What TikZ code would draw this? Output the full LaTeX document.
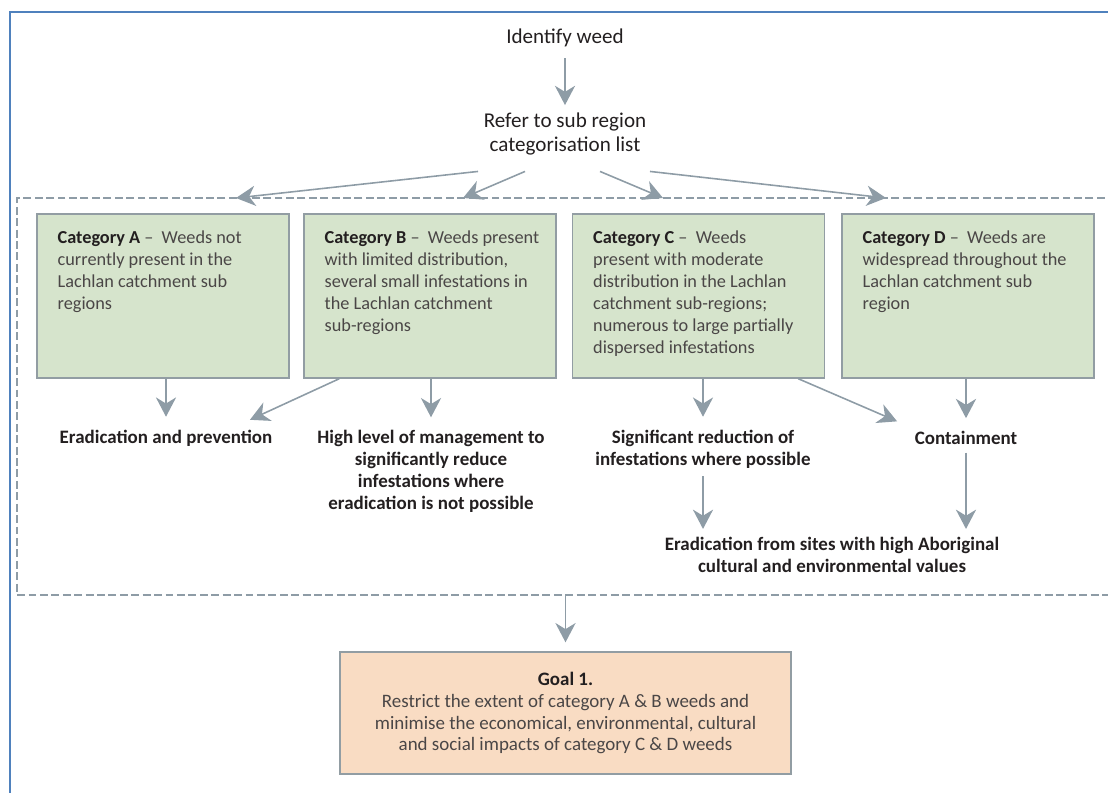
\documentclass[tikz,border=0pt]{standalone}
\usepackage{fontspec}
\setmainfont{Carlito}
\usetikzlibrary{arrows.meta}

\definecolor{framblue}{HTML}{4F81BD}
\definecolor{arrowgray}{HTML}{8E9CA6}
\definecolor{boxline}{HTML}{929DA3}
\definecolor{catfill}{HTML}{D6E4CC}
\definecolor{goalfill}{HTML}{F9DCC3}
\definecolor{labeltext}{HTML}{231F20}
\definecolor{boxtext}{HTML}{4A4646}

\tikzset{
	arr/.style={draw=arrowgray,line width=0.9pt,-{Stealth[length=11pt,width=11.5pt,inset=3.5pt]}},
	toptext/.style={align=center,text=labeltext,inner sep=0.15cm,font=\fontsize{12pt}{13.6pt}\selectfont},
	lbl/.style={align=center,text=labeltext,inner sep=0.15cm,font=\bfseries\fontsize{10.8pt}{12.5pt}\selectfont},
	cattext/.style={anchor=north west,align=left,inner xsep=0.42cm,inner ysep=0.34cm,text=boxtext,font=\fontsize{10.4pt}{12.5pt}\selectfont},
	catbox/.style={draw=boxline,fill=catfill,line width=0.8pt,minimum width=5.04cm,minimum height=3.28cm,label distance=0pt},
	goalbox/.style={draw=boxline,fill=goalfill,line width=0.8pt,minimum width=9.02cm,minimum height=2.44cm,align=center,text=boxtext,font=\fontsize{10.8pt}{12.5pt}\selectfont},
	groupbox/.style={draw=arrowgray,line width=1.2pt,dash pattern=on 4.5pt off 2pt,minimum width=22.1cm,minimum height=7.94cm}
}

\newcommand{\cathead}[1]{\textcolor{labeltext}{\textbf{#1}}}

\begin{document}
\begin{tikzpicture}[x=0.02cm,y=-0.02cm]
	\useasboundingbox (0,0) rectangle (1108,792);
	\clip (0,0) rectangle (1108,792);
	\draw[framblue,line width=1.6pt] (10,12) rectangle (1130,820);

	\node[groupbox] (group) at (569.5,396.5) {};

	\node[toptext] (identify) at (565,38) {Identify weed};
	\node[toptext] (refer) at (565,134) {Refer to sub region\\categorisation list};

	\node[catbox,label={[cattext]north west:{\cathead{Category A} –\ \ Weeds not\\currently present in the\\Lachlan catchment sub\\regions}}] (catA) at (163,296) {};
	\node[catbox,label={[cattext]north west:{\cathead{Category B} –\ \ Weeds present\\with limited distribution,\\several small infestations in\\the Lachlan catchment\\sub-regions}}] (catB) at (430,296) {};
	\node[catbox,label={[cattext]north west:{\cathead{Category C} –\ \ Weeds\\present with moderate\\distribution in the Lachlan\\catchment sub-regions;\\numerous to large partially\\dispersed infestations}}] (catC) at (698.5,296) {};
	\node[catbox,label={[cattext]north west:{\cathead{Category D} –\ \ Weeds are\\widespread throughout the\\Lachlan catchment sub\\region}}] (catD) at (968,296) {};

	\node[lbl] (erad) at (166,438) {Eradication and prevention};
	\node[lbl] (high) at (431,471.5) {High level of management to\\significantly reduce\\infestations where\\eradication is not possible};
	\node[lbl] (sigred) at (703,449) {Significant reduction of\\infestations where possible};
	\node[lbl] (contain) at (966,438) {Containment};
	\node[lbl] (abor) at (832,554.5) {Eradication from sites with high Aboriginal\\cultural and environmental values};

	\node[goalbox] (goal) at (565.5,713) {\textcolor{labeltext}{\textbf{Goal 1.}}\\Restrict the extent of category A \& B weeds and\\minimise the economical, environmental, cultural\\and social impacts of category C \& D weeds};

	\coordinate (toA) at (236,198);
	\coordinate (toB) at (463,198);
	\coordinate (toC) at (663,198);
	\coordinate (toD) at (886,198);

	\draw[arr,shorten <=2pt] (identify) -- (refer);
	\draw[arr] ([xshift=-1.74cm,yshift=-0.17cm]refer.south) -- (toA);
	\draw[arr] ([xshift=-0.8cm,yshift=-0.17cm]refer.south) -- (toB);
	\draw[arr] ([xshift=0.7cm,yshift=-0.17cm]refer.south) -- (toC);
	\draw[arr] ([xshift=1.7cm,yshift=-0.17cm]refer.south) -- (toD);

	\draw[arr,shorten >=3pt] (erad.north |- catA.south) -- (erad.north);
	\draw[arr,shorten >=3pt] ([xshift=0.72cm]catB.south west) -- ([xshift=-0.7cm]erad.north east);
	\draw[arr,shorten >=3pt] (high.north |- catB.south) -- (high.north);
	\draw[arr,shorten >=3pt] (sigred.north |- catC.south) -- (sigred.north);
	\draw[arr,shorten >=3pt] ([xshift=-0.54cm]catC.south east) -- ([xshift=-0.1cm]contain.north west);
	\draw[arr,shorten >=3pt] (contain.north |- catD.south) -- (contain.north);
	\draw[arr] (sigred) -- (sigred.south |- abor.north);
	\draw[arr] (contain) -- (contain.south |- abor.north);
	\draw[arr,shorten >=0.18cm] (goal.north |- group.south) -- (goal.north);
\end{tikzpicture}
\end{document}
